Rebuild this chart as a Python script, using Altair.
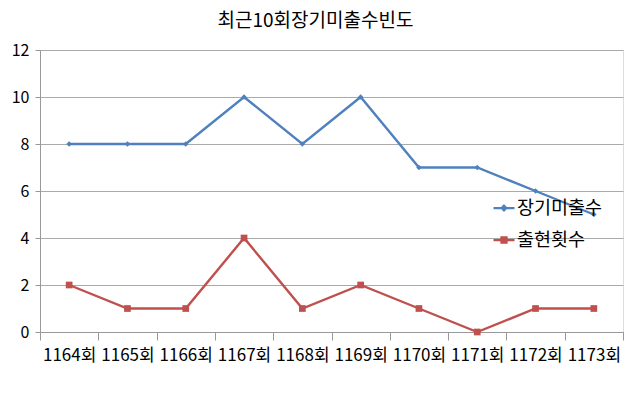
import altair as alt
import pandas as pd

rounds = ["1164회", "1165회", "1166회", "1167회", "1168회", "1169회", "1170회", "1171회", "1172회", "1173회"]
missing_counts = [8, 8, 8, 10, 8, 10, 7, 7, 6, 5]
appear_counts = [2, 1, 1, 4, 1, 2, 1, 0, 1, 1]
series_names = ["장기미출수", "출현횟수"]
series_colors = ["#4F81BD", "#C0504D"]
y_ticks = [0, 2, 4, 6, 8, 10, 12]

df = pd.DataFrame({
    "round": rounds * 2,
    "value": missing_counts + appear_counts,
    "series": [series_names[0]] * len(rounds) + [series_names[1]] * len(rounds),
})

FONT = "Noto Sans CJK KR"

x_enc = alt.X(
    "round:N", sort=rounds,
    scale=alt.Scale(type="band", paddingInner=0, paddingOuter=0),
    bandPosition=0.5,
    axis=alt.Axis(title=None, labelAngle=0, tickBand="extent", grid=False,
                  domainColor="#999999", tickColor="#999999", tickSize=8,
                  labelFontSize=17, labelColor="#000000", labelPadding=7,
                  labelOverlap=False, labelBound=False, labelFont=FONT),
)
y_enc = alt.Y(
    "value:Q", scale=alt.Scale(domain=[0, 12], nice=False),
    axis=alt.Axis(title=None, values=y_ticks, gridColor="#AAAAAA", gridWidth=1,
                  domainColor="#999999", tickColor="#999999", tickSize=5,
                  labelFontSize=16, labelColor="#000000", labelPadding=6,
                  labelFont=FONT),
)

diamond_path = "M-1,0H1M0,-0.22L0.22,0L0,0.22L-0.22,0Z"
square_path = "M-1,0H1M-0.24,-0.24H0.24V0.24H-0.24Z"

legend_cfg = alt.Legend(
    title=None, orient="none", legendX=452, legendY=146,
    labelFontSize=18.5, labelColor="#000000", labelFont=FONT, labelLimit=300,
    symbolSize=441, symbolStrokeWidth=2.25, symbolOpacity=1,
    rowPadding=10, labelOffset=1, padding=0,
)

cscale = alt.Scale(domain=series_names, range=series_colors)

lines = alt.Chart(df).mark_line(strokeWidth=2.4).encode(
    x=x_enc, y=y_enc,
    color=alt.Color("series:N", scale=cscale, legend=None),
)

blue_pts = alt.Chart(df).transform_filter(
    alt.datum.series == series_names[0]
).mark_point(shape="diamond", filled=True, size=30, opacity=1, color=series_colors[0]).encode(x=x_enc, y=y_enc)

red_pts = alt.Chart(df).transform_filter(
    alt.datum.series == series_names[1]
).mark_point(shape="square", filled=True, size=45, opacity=1, color=series_colors[1]).encode(x=x_enc, y=y_enc)

# legend-only layer: its marks sit outside the y domain and are clipped away
legend_layer = alt.Chart(df).transform_calculate(
    hidden="-100"
).mark_point(filled=True, strokeWidth=2.25, clip=True).encode(
    x=x_enc, y=alt.Y("hidden:Q"),
    fill=alt.Fill("series:N", scale=alt.Scale(domain=series_names, range=series_colors), legend=legend_cfg),
    stroke=alt.Stroke("series:N", scale=alt.Scale(domain=series_names, range=series_colors), legend=legend_cfg),
    shape=alt.Shape("series:N", scale=alt.Scale(domain=series_names, range=[diamond_path, square_path]), legend=legend_cfg),
)

chart = alt.layer(lines, blue_pts, red_pts, legend_layer).resolve_legend(
    fill="independent", stroke="independent", shape="independent"
).properties(
    width=583, height=282,
    title=alt.TitleParams("최근10회장기미출수빈도", fontSize=19, fontWeight="normal",
                          font=FONT, color="#000000", anchor="middle", dx=-16, offset=11),
    autosize=alt.AutoSizeParams(type="none"),
    padding={"left": 32, "top": 42, "right": 9, "bottom": 50},
).configure_view(stroke=None).configure(background="white")

chart.save("out.html", embed_options={"renderer": "svg", "actions": False})
